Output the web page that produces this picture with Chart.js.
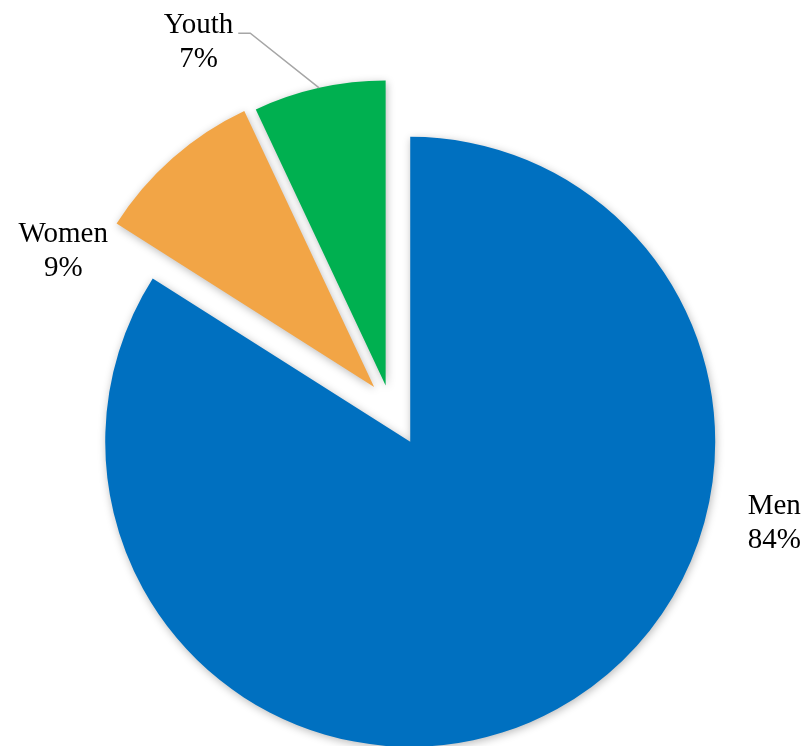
<!DOCTYPE html>
<html>
<head>
<meta charset="utf-8">
<title>Share by group</title>
<script src="https://cdn.jsdelivr.net/npm/chart.js@4.4.1/dist/chart.umd.min.js"></script>
<style>
  html, body { margin: 0; padding: 0; background: #fff; }
  #wrap { width: 806px; height: 746px; }
</style>
</head>
<body>
<div id="wrap"><canvas id="pieChart" width="806" height="746"></canvas></div>
<script>
const groups = ['Men', 'Women', 'Youth'];
const shares = [84, 9, 7];
const sliceColors = ['#0070C0', '#F2A546', '#00B050'];

// pull every slice out along its own bisector, plus a soft drop shadow
const explodePlugin = {
  id: 'explode',
  afterDatasetsUpdate(chart, args, opts) {
    chart.getDatasetMeta(0).data.forEach((arc, i) => {
      const d = opts.distances[i] || 0;
      const mid = (arc.startAngle + arc.endAngle) / 2;
      arc.x += Math.cos(mid) * d;
      arc.y += Math.sin(mid) * d;
    });
  },
  beforeDatasetsDraw(chart, args, opts) {
    const ctx = chart.ctx;
    ctx.save();
    ctx.shadowColor = opts.shadowColor;
    ctx.shadowBlur = opts.shadowBlur;
    ctx.shadowOffsetX = 1;
    ctx.shadowOffsetY = 2;
  },
  afterDatasetsDraw(chart) {
    chart.ctx.restore();
  }
};

// two-line "name / percent" labels, placed around each slice
const labelPlugin = {
  id: 'sliceLabels',
  afterDraw(chart, args, opts) {
    const ctx = chart.ctx;
    const arcs = chart.getDatasetMeta(0).data;
    const lh = opts.lineHeight;
    ctx.save();
    ctx.font = opts.font;
    ctx.fillStyle = opts.color;
    ctx.textAlign = 'center';
    ctx.textBaseline = 'middle';
    arcs.forEach((arc, i) => {
      const p = opts.placement[i];
      const a = (p.angle - 90) * Math.PI / 180;
      const cx = arc.x + Math.cos(a) * p.dist;
      const cy = arc.y + Math.sin(a) * p.dist;
      const name = groups[i];
      ctx.fillText(name, cx, cy - lh / 2);
      ctx.fillText(shares[i] + '%', cx, cy + lh / 2);

      if (p.leader) {
        const mid = (arc.startAngle + arc.endAngle) / 2;
        const x0 = cx + ctx.measureText(name).width / 2 + 5;
        const y0 = cy - lh / 2 + 8;
        ctx.beginPath();
        ctx.moveTo(x0, y0);
        ctx.lineTo(x0 + 12, y0);
        ctx.lineTo(arc.x + Math.cos(mid) * arc.outerRadius, arc.y + Math.sin(mid) * arc.outerRadius);
        ctx.strokeStyle = opts.leaderColor;
        ctx.lineWidth = 1.5;
        ctx.stroke();
      }
    });
    ctx.restore();
  }
};

const ctx = document.getElementById('pieChart').getContext('2d');
new Chart(ctx, {
  type: 'pie',
  data: {
    labels: groups,
    datasets: [{
      data: shares,
      backgroundColor: sliceColors,
      borderWidth: 0,
      radius: 305
    }]
  },
  options: {
    responsive: false,
    animation: false,
    events: [],
    layout: { padding: { left: 0, right: 26, top: 64, bottom: 0 } },
    plugins: {
      legend: { display: false },
      tooltip: { enabled: false },
      explode: {
        distances: [42, 24, 20],
        shadowColor: 'rgba(0,0,0,0.28)',
        shadowBlur: 9
      },
      sliceLabels: {
        font: '29px "Liberation Serif", "Times New Roman", serif',
        color: '#000',
        lineHeight: 34,
        leaderColor: '#A6A6A6',
        placement: [
          { angle: 102.6, dist: 373 },
          { angle: 293.5, dist: 339 },
          { angle: 331.4, dist: 391, leader: true }
        ]
      }
    }
  },
  plugins: [explodePlugin, labelPlugin]
});
</script>
</body>
</html>
